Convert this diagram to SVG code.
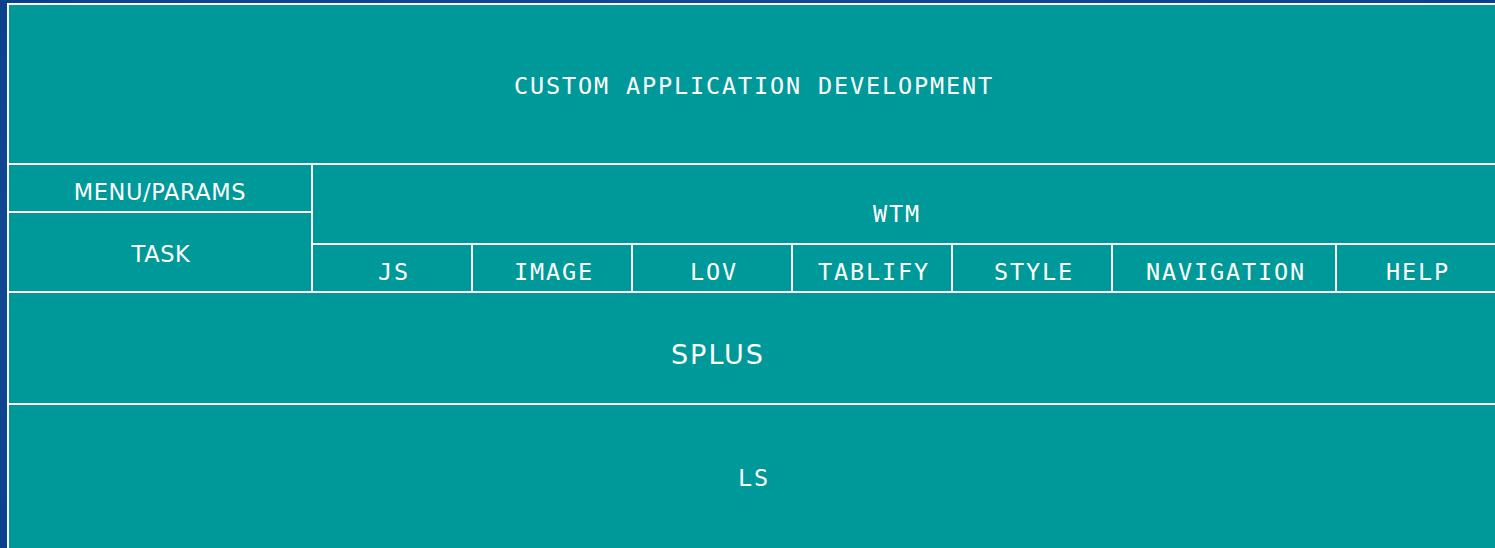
<svg xmlns="http://www.w3.org/2000/svg" width="1495" height="548" viewBox="0 0 1495 548">
  <defs>
    <radialGradient id="bg" cx="0.5" cy="0.5" r="0.8">
      <stop offset="0" stop-color="#1a5aa6"/>
      <stop offset="1" stop-color="#0a3c86"/>
    </radialGradient>
  </defs>
  <style>
    .cell { fill: #009999; stroke: #ffffff; stroke-width: 2; }
    .mono { font-family: "DejaVu Sans Mono", "Liberation Mono", monospace; font-size: 23.5px; letter-spacing: 1.85px; fill: #ffffff; text-anchor: middle; }
    .sans { font-family: "DejaVu Sans", Verdana, sans-serif; font-size: 22.5px; letter-spacing: 0.6px; fill: #ffffff; text-anchor: middle; }
    .big { font-family: "DejaVu Sans", Verdana, sans-serif; font-size: 27px; letter-spacing: 2px; fill: #ffffff; text-anchor: middle; }
  </style>

  <rect x="0" y="0" width="1495" height="548" fill="url(#bg)"/>

  <!-- top layer -->
  <g id="custom-app-dev">
    <rect class="cell" x="8" y="4" width="1490" height="160"/>
    <text class="mono" x="754" y="94">CUSTOM APPLICATION DEVELOPMENT</text>
  </g>

  <!-- left column -->
  <g id="menu-params">
    <rect class="cell" x="8" y="164" width="304" height="48"/>
    <text class="sans" x="160" y="200">MENU/PARAMS</text>
  </g>
  <g id="task">
    <rect class="cell" x="8" y="212" width="304" height="80"/>
    <text class="sans" x="161" y="262">TASK</text>
  </g>

  <!-- WTM and its modules -->
  <g id="wtm">
    <rect class="cell" x="312" y="164" width="1186" height="80"/>
    <text class="mono" x="897" y="222">WTM</text>
  </g>
  <g id="js">
    <rect class="cell" x="312" y="244" width="160" height="48"/>
    <text class="mono" x="394" y="280">JS</text>
  </g>
  <g id="image">
    <rect class="cell" x="472" y="244" width="160" height="48"/>
    <text class="mono" x="554" y="280">IMAGE</text>
  </g>
  <g id="lov">
    <rect class="cell" x="632" y="244" width="160" height="48"/>
    <text class="mono" x="714" y="280">LOV</text>
  </g>
  <g id="tablify">
    <rect class="cell" x="792" y="244" width="160" height="48"/>
    <text class="mono" x="874" y="280">TABLIFY</text>
  </g>
  <g id="style">
    <rect class="cell" x="952" y="244" width="160" height="48"/>
    <text class="mono" x="1034" y="280">STYLE</text>
  </g>
  <g id="navigation">
    <rect class="cell" x="1112" y="244" width="224" height="48"/>
    <text class="mono" x="1226" y="280">NAVIGATION</text>
  </g>
  <g id="help">
    <rect class="cell" x="1336" y="244" width="162" height="48"/>
    <text class="mono" x="1418" y="280">HELP</text>
  </g>

  <!-- lower layers -->
  <g id="splus">
    <rect class="cell" x="8" y="292" width="1490" height="112"/>
    <text class="big" x="718" y="364">SPLUS</text>
  </g>
  <g id="ls">
    <rect class="cell" x="8" y="404" width="1490" height="150"/>
    <text class="mono" x="754" y="486">LS</text>
  </g>
</svg>
